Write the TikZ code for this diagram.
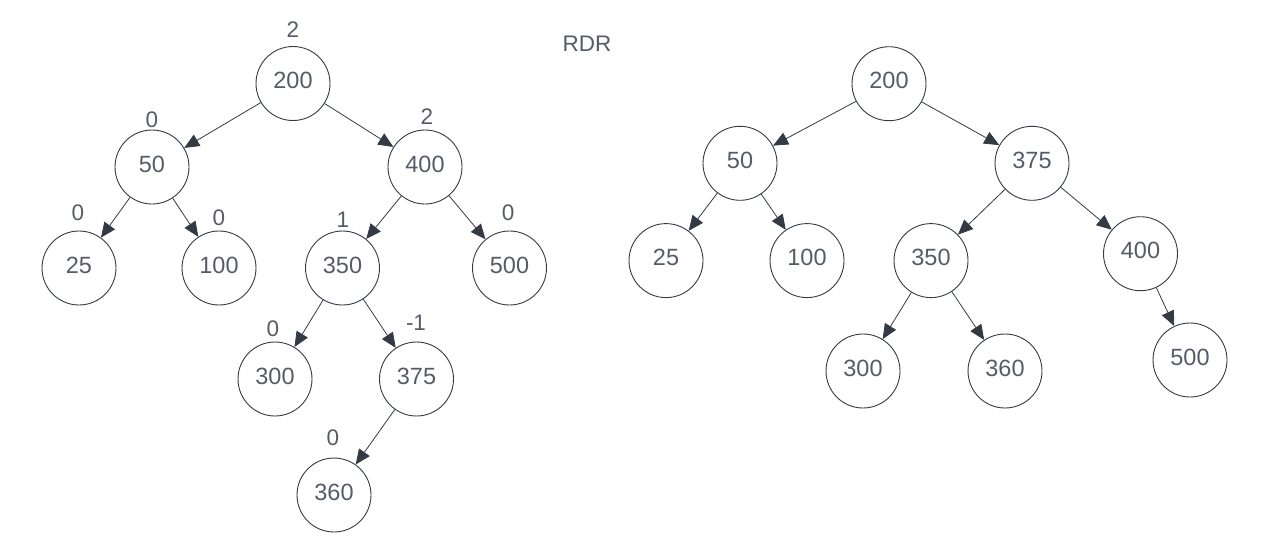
\documentclass[tikz,border=0pt]{standalone}
\usepackage{fontspec}
\setmainfont{Liberation Sans}
\usetikzlibrary{arrows.meta}
\definecolor{txtgray}{HTML}{565C67}
\definecolor{linedark}{HTML}{343A44}
\begin{document}
\begin{tikzpicture}[x=1pt,y=-1pt,
  treenode/.style={circle,draw=linedark,line width=0.9pt,minimum size=74pt,inner sep=0pt,
    text=txtgray,font=\fontsize{23.5}{27}\selectfont,text depth=6pt},
  balance/.style={text=txtgray,font=\fontsize{22.5}{26}\selectfont,inner sep=0pt},
  edge/.style={draw=linedark,line width=0.8pt,-{Triangle[length=15pt,width=13pt]}}]
\useasboundingbox (0,0) rectangle (1268,550);

% left tree with balance factors
\node[treenode] (L200) at (293,83.5) {200};
\node[treenode] (L50)  at (152,167) {50};
\node[treenode] (L400) at (425,167) {400};
\node[treenode] (L25)  at (79,268) {25};
\node[treenode] (L100) at (219,268) {100};
\node[treenode] (L350) at (342.5,268) {350};
\node[treenode] (L500) at (509.5,268) {500};
\node[treenode] (L300) at (275,379) {300};
\node[treenode] (L375) at (416.5,379) {375};
\node[treenode] (L360) at (334,495) {360};

\node[balance] (bL200) at (293,30) {2};
\node[balance] (bL50)  at (152,120) {0};
\node[balance] (bL400) at (427,117) {2};
\node[balance] (bL25)  at (78,213) {0};
\node[balance] (bL100) at (219,218) {0};
\node[balance] (bL350) at (343,220) {1};
\node[balance] (bL500) at (508,213) {0};
\node[balance] (bL300) at (273,329) {0};
\node[balance] (bL375) at (416,323) {-1};
\node[balance] (bL360) at (333,438) {0};

\node[balance] (title) at (587,44) {RDR};

\draw[edge] (L200) -- (L50);
\draw[edge] (L200) -- (L400);
\draw[edge] (L50) -- (L25);
\draw[edge] (L50) -- (L100);
\draw[edge] (L400) -- (L350);
\draw[edge] (L400) -- (L500);
\draw[edge] (L350) -- (L300);
\draw[edge] (L350) -- (L375);
\draw[edge] (L375) -- (L360);

% right tree after rotation
\node[treenode] (R200) at (889,83.7) {200};
\node[treenode] (R50)  at (740,163.3) {50};
\node[treenode] (R375) at (1032,163.3) {375};
\node[treenode] (R25)  at (666,260.6) {25};
\node[treenode] (R100) at (807,260.6) {100};
\node[treenode] (R350) at (931,260.6) {350};
\node[treenode] (R400) at (1140.5,253.7) {400};
\node[treenode] (R300) at (863,371) {300};
\node[treenode] (R360) at (1005,371) {360};
\node[treenode] (R500) at (1190,360) {500};

\draw[edge] (R200) -- (R50);
\draw[edge] (R200) -- (R375);
\draw[edge] (R50) -- (R25);
\draw[edge] (R50) -- (R100);
\draw[edge] (R375) -- (R350);
\draw[edge] (R375) -- (R400);
\draw[edge] (R350) -- (R300);
\draw[edge] (R350) -- (R360);
\draw[edge] (R400) -- (R500);
\end{tikzpicture}
\end{document}
